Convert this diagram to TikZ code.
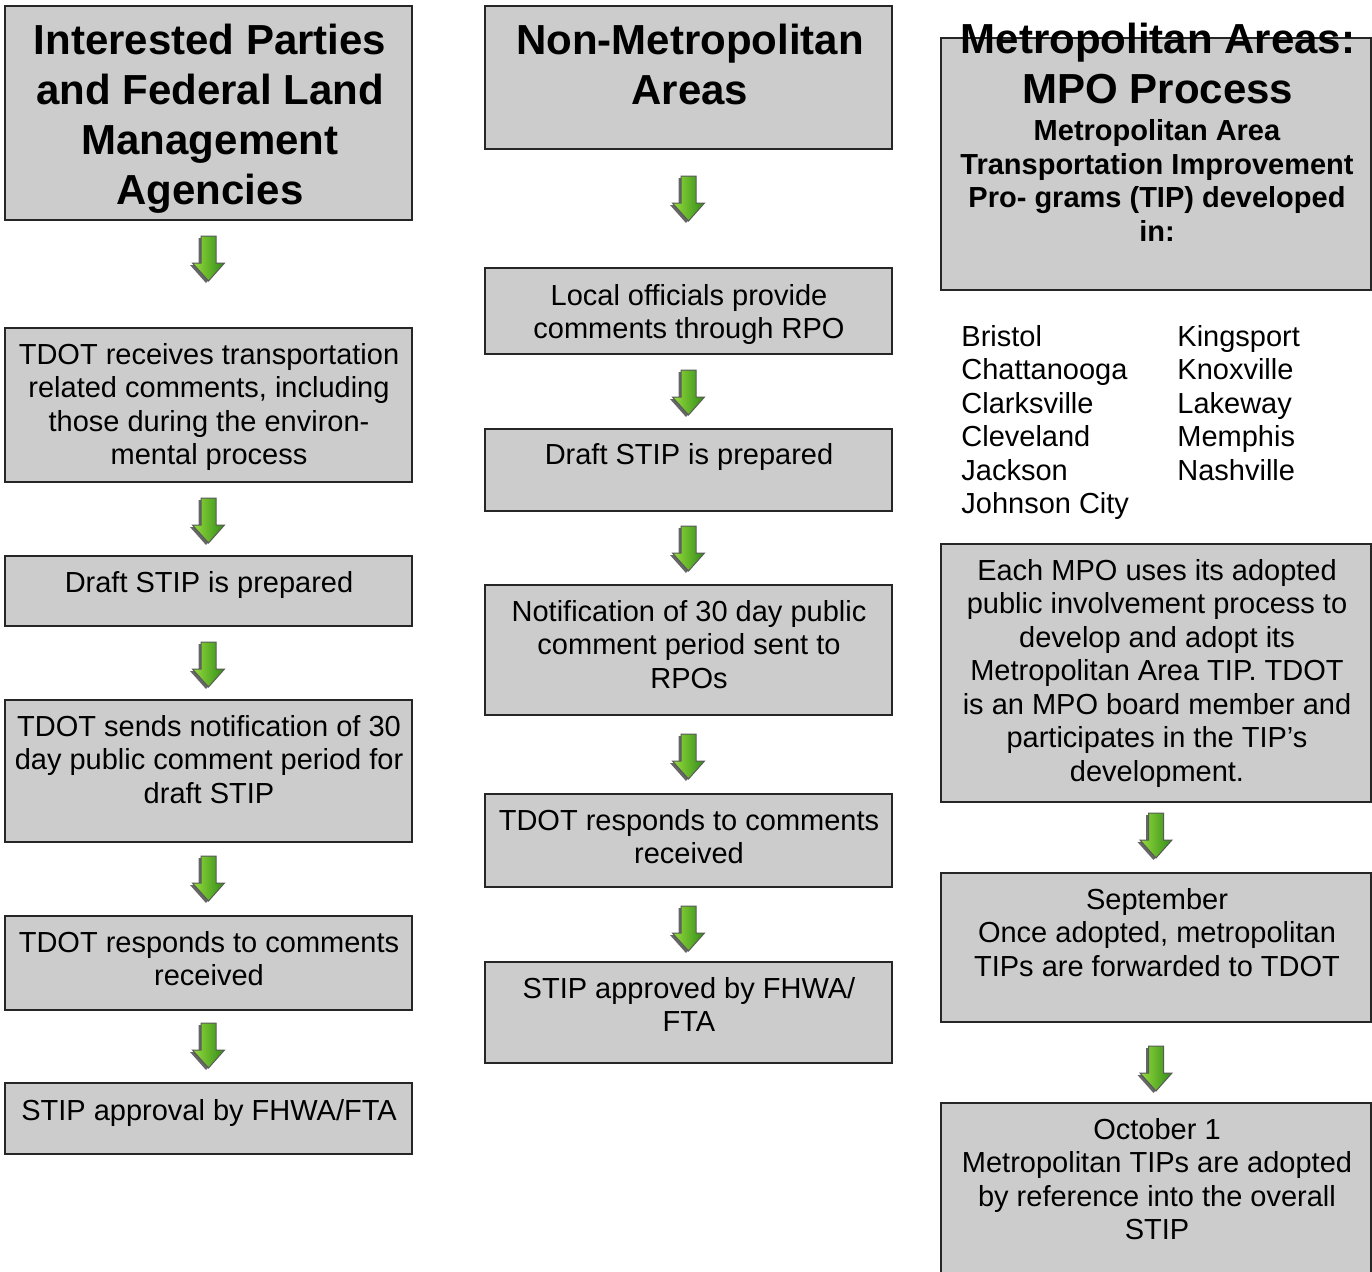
\documentclass[tikz,border=0pt]{standalone}
\usepackage{fontspec}
\setmainfont{Liberation Sans}
\usepackage{tikz}
\usetikzlibrary{calc}
\usetikzlibrary{positioning}
\usetikzlibrary{fit}
\definecolor{BoxGray}{RGB}{204,204,204}
\definecolor{ArrowLight}{RGB}{150,220,60}
\definecolor{ArrowDark}{RGB}{50,140,25}

\tikzset{
	box/.style={draw=black!85, fill=BoxGray, line width=1pt, rectangle, inner sep=0pt},
	txt/.style={align=center, inner sep=0pt, anchor=north, font=\fontsize{14.5}{16.75}\selectfont},
	head/.style={txt, font=\fontsize{21}{25}\selectfont\bfseries},
	subhead/.style={txt, font=\fontsize{14.5}{16.85}\selectfont\bfseries},
	greenarrow/.pic={
		\fill [black!60] (-10,2) -- (5,2) -- (5,29) -- (13.5,29) -- (-2.5,47) -- (-18.5,29) -- (-10,29) -- cycle;
		\shade [left color=ArrowLight, right color=ArrowDark, draw=black!65, line width=0.5pt]
			(-7.5,0) -- (7.5,0) -- (7.5,27) -- (16,27) -- (0,45) -- (-16,27) -- (-7.5,27) -- cycle;
	}
}

\begin{document}
\begin{tikzpicture}[x=0.5pt, y=-0.5pt]
	\useasboundingbox (0,0) rectangle (1372,1271);

	% left column
	\node [box, fit={(5,6) (412,220)}] (A1) {};
	\node [box, fit={(5,328) (412,482)}] (A2) {};
	\node [box, fit={(5,556) (412,626)}] (A3) {};
	\node [box, fit={(5,700) (412,842)}] (A4) {};
	\node [box, fit={(5,916) (412,1010)}] (A5) {};
	\node [box, fit={(5,1083) (412,1154)}] (A6) {};

	\node [head] (A1t) at (210,24) {Interested Parties\\and Federal Land\\Management\\Agencies};
	\node [txt] (A2t) at (209,343) {TDOT receives transportation\\related comments, including\\those during the environ-\\mental process};
	\node [txt] (A3t) at (209,571) {Draft STIP is prepared};
	\node [txt] (A4t) at (209,715) {TDOT sends notification of 30\\day public comment period for\\draft STIP};
	\node [txt] (A5t) at (209,931) {TDOT responds to comments\\received};
	\node [txt] (A6t) at (209,1099) {STIP approval by FHWA/FTA};

	\pic at ($(A1.south)+(0,15)$) {greenarrow};
	\pic at ($(A2.south)+(0,15)$) {greenarrow};
	\pic at ($(A3.south)+(0,15)$) {greenarrow};
	\pic at ($(A4.south)+(0,13)$) {greenarrow};
	\pic at ($(A5.south)+(0,12)$) {greenarrow};

	% middle column
	\node [box, fit={(485,6) (892,149)}] (B1) {};
	\node [box, fit={(485,268) (892,354)}] (B2) {};
	\node [box, fit={(485,429) (892,511)}] (B3) {};
	\node [box, fit={(485,585) (892,715)}] (B4) {};
	\node [box, fit={(485,794) (892,887)}] (B5) {};
	\node [box, fit={(485,962) (892,1063)}] (B6) {};

	\node [head] (B1t) at (690,24) {Non-Metropolitan\\Areas};
	\node [txt] (B2t) at (689,284) {Local officials provide\\comments through RPO};
	\node [txt] (B3t) at (689,443) {Draft STIP is prepared};
	\node [txt] (B4t) at (689,600) {Notification of 30 day public\\comment period sent to\\RPOs};
	\node [txt] (B5t) at (689,809) {TDOT responds to comments\\received};
	\node [txt] (B6t) at (689,977) {STIP approved by FHWA/\\FTA};

	\pic at ($(B1.south)+(0,26)$) {greenarrow};
	\pic at ($(B2.south)+(0,15)$) {greenarrow};
	\pic at ($(B3.south)+(0,14)$) {greenarrow};
	\pic at ($(B4.south)+(0,18)$) {greenarrow};
	\pic at ($(B5.south)+(0,18)$) {greenarrow};

	% right column
	\node [box, fit={(941,38) (1371,290)}] (C1) {};
	\node [box, fit={(941,544) (1371,802)}] (C2) {};
	\node [box, fit={(941,873) (1371,1022)}] (C3) {};
	\node [box, fit={(941,1103) (1371,1290)}] (C4) {};

	\node [head] (C1t) at (1158,23) {Metropolitan Areas:\\MPO Process};
	\node [subhead] (C1s) at (1157,119) {Metropolitan Area\\Transportation Improvement\\Pro- grams (TIP) developed\\in:};
	\node [txt, align=left, anchor=north west] (cityL) at (961,325) {Bristol\\Chattanooga\\Clarksville\\Cleveland\\Jackson\\Johnson City};
	\node [txt, align=left, anchor=north west] (cityR) at (1177,325) {Kingsport\\Knoxville\\Lakeway\\Memphis\\Nashville};
	\node [txt] (C2t) at (1157,559) {Each MPO uses its adopted\\public involvement process to\\develop and adopt its\\Metropolitan Area TIP. TDOT\\is an MPO board member and\\participates in the TIP’s\\development.};
	\node [txt] (C3t) at (1157,888) {September\\Once adopted, metropolitan\\TIPs are forwarded to TDOT};
	\node [txt] (C4t) at (1157,1118) {October 1\\Metropolitan TIPs are adopted\\by reference into the overall\\STIP};

	\pic at ($(C2.south)+(0,10)$) {greenarrow};
	\pic at ($(C3.south)+(0,23)$) {greenarrow};
\end{tikzpicture}
\end{document}
